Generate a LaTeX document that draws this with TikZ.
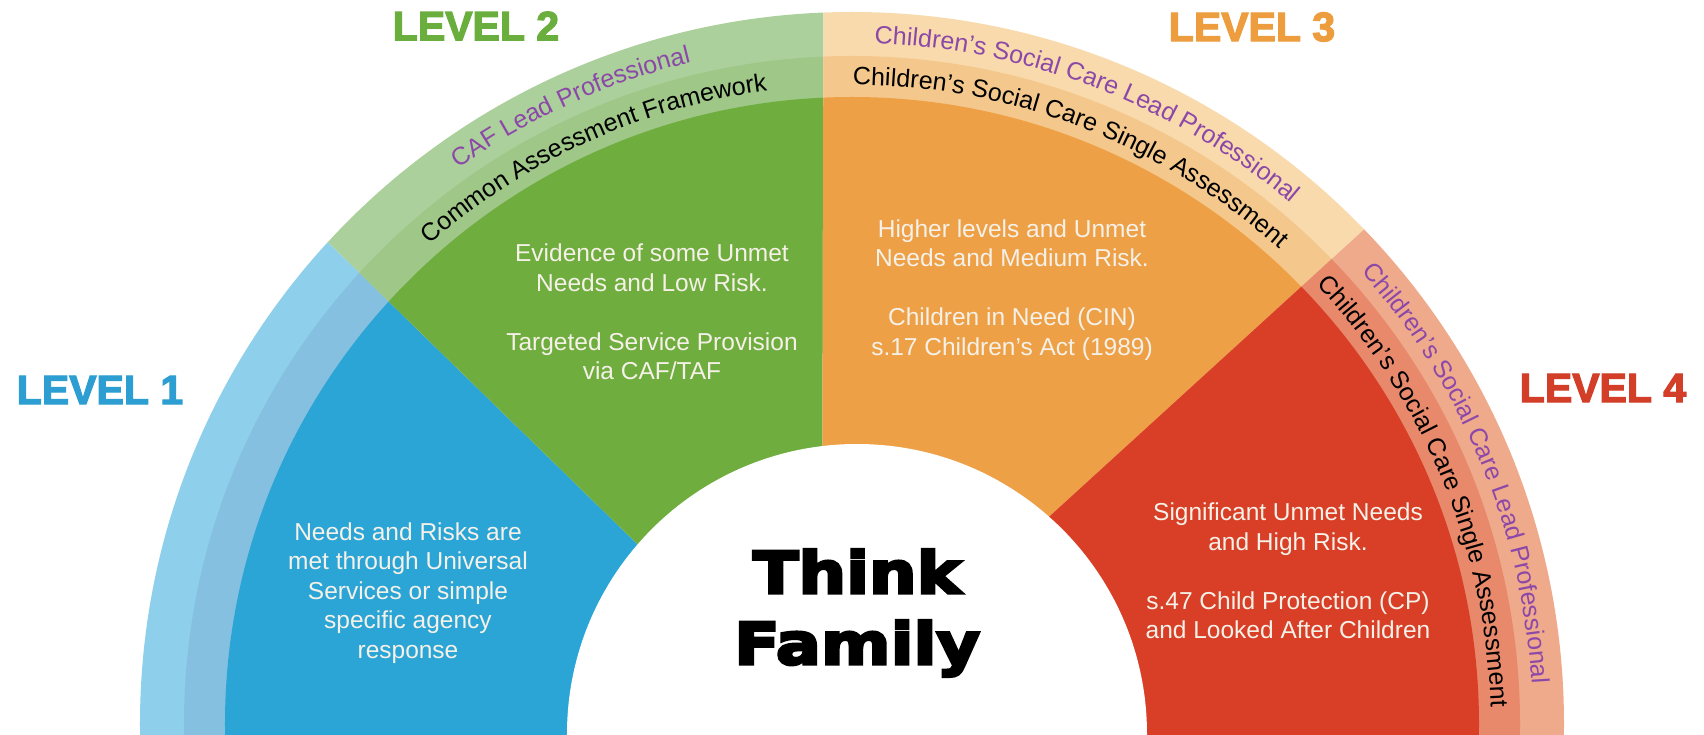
\documentclass[tikz,border=0pt]{standalone}
\usepackage{fontspec}
\setmainfont{Liberation Sans}
\newfontfamily\levelfont{Liberation Sans}[BoldFeatures={FakeBold=3}]
\newfontfamily\thinkfont{DejaVu Sans}[BoldFeatures={FakeBold=5,FakeStretch=1.16}]
\usetikzlibrary{calc,decorations.text}

\definecolor{lonemain}{RGB}{43,165,214}
\definecolor{lonemid}{RGB}{134,192,224}
\definecolor{loneout}{RGB}{142,208,235}
\definecolor{ltwomain}{RGB}{111,173,63}
\definecolor{ltwomid}{RGB}{158,199,136}
\definecolor{ltwoout}{RGB}{172,208,156}
\definecolor{lthreemain}{RGB}{238,160,70}
\definecolor{lthreemid}{RGB}{244,200,140}
\definecolor{lthreeout}{RGB}{248,218,172}
\definecolor{lfourmain}{RGB}{216,63,38}
\definecolor{lfourmid}{RGB}{232,137,108}
\definecolor{lfourout}{RGB}{239,170,140}
\definecolor{lvone}{RGB}{44,158,210}
\definecolor{lvtwo}{RGB}{106,174,62}
\definecolor{lvthree}{RGB}{238,157,62}
\definecolor{lvfour}{RGB}{210,62,40}
\definecolor{bandpurple}{RGB}{140,72,168}
\definecolor{bodywhite}{RGB}{245,241,232}

\newcommand\purpleband{\fontsize{25}{30}\selectfont\color{bandpurple}}
\newcommand\blackband{\fontsize{25}{30}\selectfont\color{black}}

\begin{document}
\begin{tikzpicture}[x=1pt,y=1pt]
        \tikzstyle{levellabel}=[inner sep=0pt,font=\fontsize{41}{41}\selectfont\levelfont\bfseries]
        \tikzstyle{bodytext}=[inner sep=0pt,align=center,text=bodywhite,font=\fontsize{24.5}{29.5}\selectfont]
        \tikzstyle{bandtext}=[decorate,decoration={text along path,text align=center}]

        \useasboundingbox (-852,-10) rectangle (852,724);
        \clip (-852,-10) rectangle (852,724);
        \fill[white] (-852,-10) rectangle (852,724);

        \coordinate (hub) at (-30,0);
        \coordinate (B1)  at (137.4:712);  % level 1 | level 2
        \coordinate (B2)  at (92.3:712);   % level 2 | level 3
        \coordinate (B3)  at (44:712);     % level 3 | level 4

        \begin{scope} % level 1
          \clip (hub) -- ($(hub)!2!(B1)$) -- (-1000,-20) -- (-30,-20) -- cycle;
          \fill[loneout]  (0,0) circle[radius=712];
          \fill[lonemid]  (0,0) circle[radius=668];
          \fill[lonemain] (0,0) circle[radius=627];
        \end{scope}
        \begin{scope} % level 2
          \clip (hub) -- ($(hub)!2!(B1)$) -- ($(hub)!2!(B2)$) -- cycle;
          \fill[ltwoout]  (0,0) circle[radius=712];
          \fill[ltwomid]  (0,0) circle[radius=668];
          \fill[ltwomain] (0,0) circle[radius=627];
        \end{scope}
        \begin{scope} % level 3
          \clip (hub) -- ($(hub)!2!(B2)$) -- ($(hub)!2!(B3)$) -- cycle;
          \fill[lthreeout]  (0,0) circle[radius=712];
          \fill[lthreemid]  (0,0) circle[radius=668];
          \fill[lthreemain] (0,0) circle[radius=627];
        \end{scope}
        \begin{scope} % level 4
          \clip (hub) -- ($(hub)!2!(B3)$) -- (1000,-20) -- (-30,-20) -- cycle;
          \fill[lfourout]  (0,0) circle[radius=712];
          \fill[lfourmid]  (0,0) circle[radius=668];
          \fill[lfourmain] (0,0) circle[radius=627];
        \end{scope}

        \fill[white] (5,-10) circle[radius=290];

        % texts round the bands
        \path[bandtext,decoration={text={|\purpleband|CAF Lead Professional}}]
              (149.5:681) arc[start angle=149.5,end angle=79.5,radius=681];
        \path[bandtext,decoration={text={|\blackband|Common Assessment Framework}}]
              (149.5:639) arc[start angle=149.5,end angle=79.5,radius=639];
        \path[bandtext,decoration={text={|\purpleband|Children’s Social Care Lead Professional}}]
              (104:681) arc[start angle=104,end angle=34,radius=681];
        \path[bandtext,decoration={text={|\blackband|Children’s Social Care Single Assessment}}]
              (104:639) arc[start angle=104,end angle=34,radius=639];
        \path[bandtext,decoration={text={|\purpleband|Children’s Social Care Lead Professional}}]
              (57.5:681) arc[start angle=57.5,end angle=-12.5,radius=681];
        \path[bandtext,decoration={text={|\blackband|Children’s Social Care Single Assessment}}]
              (57.5:639) arc[start angle=57.5,end angle=-12.5,radius=639];

        \node[levellabel,text=lvone]   (L1) at (-752,334) {LEVEL 1};
        \node[levellabel,text=lvtwo]   (L2) at (-376,698) {LEVEL 2};
        \node[levellabel,text=lvthree] (L3) at (400,697)  {LEVEL 3};
        \node[levellabel,text=lvfour]  (L4) at (751,336)  {LEVEL 4};

        \node[bodytext] (T1) at (-444,131) {Needs and Risks are\\met through Universal\\Services or simple\\specific agency\\response};
        \node[bodytext] (T2) at (-200,412) {Evidence of some Unmet\\Needs and Low Risk.\\[29.5pt]Targeted Service Provision\\via CAF/TAF};
        \node[bodytext] (T3) at (160,434)  {Higher levels and Unmet\\Needs and Medium Risk.\\[29.5pt]Children in Need (CIN)\\s.17 Children’s Act (1989)};
        \node[bodytext] (T4) at (436,153)  {Significant Unmet Needs\\and High Risk.\\[29.5pt]s.47 Child Protection (CP)\\and Looked After Children};

        \node[inner sep=0pt,align=center,font=\fontsize{57.6}{71}\selectfont\thinkfont\bfseries]
              (TF) at (5,111) {Think\\Family};
\end{tikzpicture}
\end{document}
